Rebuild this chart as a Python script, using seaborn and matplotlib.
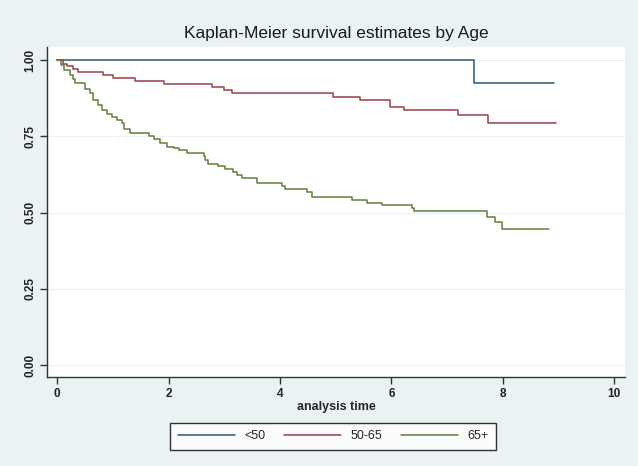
import numpy as np
import pandas as pd
import matplotlib
matplotlib.use("Agg")
import matplotlib.pyplot as plt
import seaborn as sns

# Kaplan-Meier step points (time, survival)
groups = ["<50", "50-65", "65+"]

t_lt50 = [0.0, 7.48, 8.92]
s_lt50 = [1.0, 0.926, 0.926]

t_50_65 = [0.0, 0.11, 0.17, 0.29, 0.38, 0.83, 1.01, 1.40, 1.91, 2.78, 2.99, 3.14,
           4.96, 5.44, 5.98, 6.22, 7.20, 7.73, 8.96]
s_50_65 = [1.0, 0.989, 0.980, 0.970, 0.961, 0.953, 0.942, 0.931, 0.922, 0.911, 0.902, 0.891,
           0.880, 0.869, 0.847, 0.836, 0.820, 0.794, 0.794]

t_65p = [0.0, 0.07, 0.13, 0.23, 0.29, 0.32, 0.50, 0.59, 0.65, 0.74, 0.80, 0.89, 0.98,
         1.07, 1.16, 1.20, 1.31, 1.65, 1.73, 1.85, 1.97, 2.09, 2.18, 2.33, 2.63, 2.66,
         2.71, 2.89, 3.02, 3.16, 3.23, 3.32, 3.58, 4.03, 4.09, 4.48, 4.57, 5.29, 5.56,
         5.83, 6.37, 6.41, 7.71, 7.87, 7.99, 8.83]
s_65p = [1.0, 0.984, 0.967, 0.951, 0.937, 0.924, 0.907, 0.891, 0.871, 0.852, 0.836, 0.823, 0.814,
         0.803, 0.793, 0.774, 0.760, 0.752, 0.743, 0.727, 0.716, 0.711, 0.705, 0.696, 0.687, 0.672,
         0.661, 0.652, 0.644, 0.633, 0.623, 0.615, 0.596, 0.587, 0.579, 0.568, 0.552, 0.543, 0.533,
         0.525, 0.514, 0.505, 0.486, 0.470, 0.445, 0.445]

colors = ["#2b5580", "#9a3f48", "#5f8038"]
bg = "#eaf2f4"

rows = []
for g, ts, ss in zip(groups, [t_lt50, t_50_65, t_65p], [s_lt50, s_50_65, s_65p]):
    for t, s in zip(ts, ss):
        rows.append({"time": t, "surv": s, "Age": g})
df = pd.DataFrame(rows)

sns.set_style("white")
plt.rcParams["font.family"] = ["Liberation Sans", "DejaVu Sans"]

fig = plt.figure(figsize=(6.38, 4.66), dpi=100, facecolor=bg)
ax = fig.add_axes([0.074, 0.191, 0.906, 0.708])
ax.set_facecolor("white")

sns.lineplot(data=df, x="time", y="surv", hue="Age", hue_order=groups, palette=colors,
             estimator=None, sort=False, drawstyle="steps-post", linewidth=1.1,
             legend=False, ax=ax)

ax.set_xlim(-0.18, 10.2)
ax.set_ylim(-0.039, 1.043)
ax.set_xticks([0, 2, 4, 6, 8, 10])
ax.set_yticks([0, 0.25, 0.5, 0.75, 1.0])
ax.set_yticklabels(["0.00", "0.25", "0.50", "0.75", "1.00"], rotation=90, va="center")
ax.yaxis.grid(True, color="#eef4f6", linewidth=1)
ax.set_axisbelow(True)

for lab in ax.get_xticklabels() + ax.get_yticklabels():
    lab.set_fontsize(8.5)
    lab.set_fontweight("bold")
    lab.set_color("#222222")

ax.tick_params(axis="both", direction="out", length=5, width=1, color="#333333",
               left=True, bottom=True, pad=3)
for side in ["top", "right"]:
    ax.spines[side].set_visible(False)
for side in ["left", "bottom"]:
    ax.spines[side].set_color("#333333")
    ax.spines[side].set_linewidth(1)

ax.set_xlabel("analysis time", fontsize=9, fontweight="bold", labelpad=1)
ax.set_ylabel("")
fig.suptitle("Kaplan-Meier survival estimates by Age", x=0.527, y=0.945,
             fontsize=12.5, color="#1a1a1a")

handles = [plt.Line2D([], [], color=c, linewidth=1.1) for c in colors]
leg = fig.legend(handles, groups, loc="center", bbox_to_anchor=(0.522, 1 - 436 / 466),
                 ncol=3, frameon=True, fancybox=False, handlelength=4.6,
                 handletextpad=0.7, columnspacing=1.5, borderpad=0.6,
                 prop={"size": 9})
leg.get_frame().set_edgecolor("black")
leg.get_frame().set_linewidth(1)
leg.get_frame().set_facecolor("white")

fig.savefig("out.png", dpi=100, facecolor=bg)
